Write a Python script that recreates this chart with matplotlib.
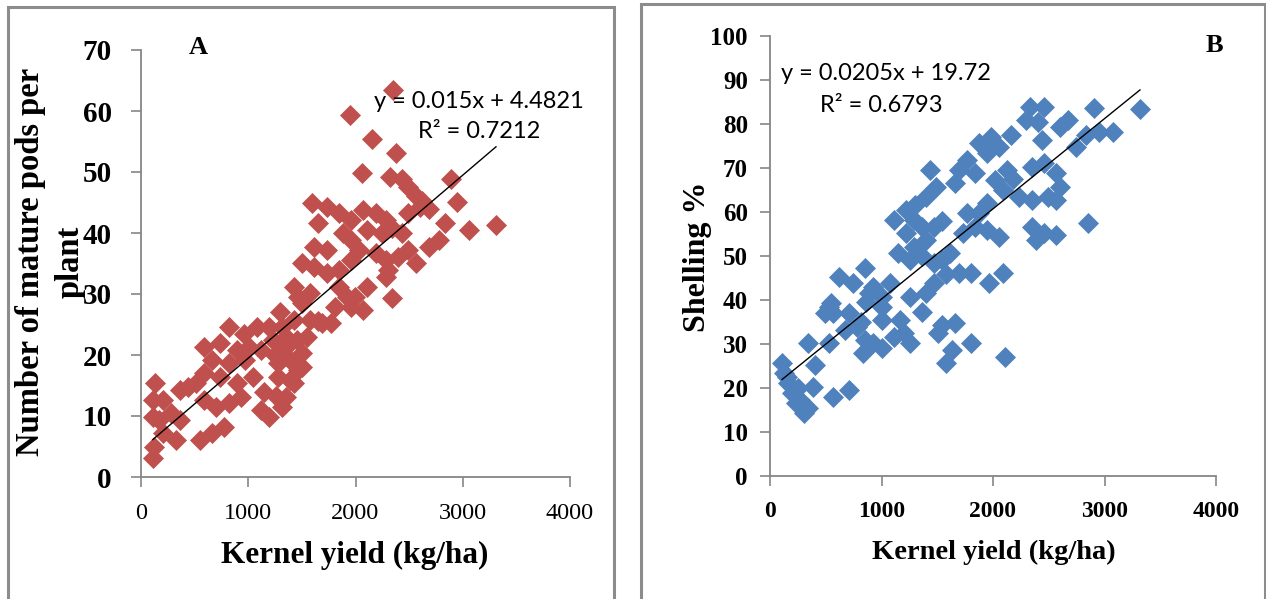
import numpy as np
import matplotlib.pyplot as plt
from matplotlib.patches import Rectangle

W, H = 1266, 599

# Panel A: kernel yield vs number of mature pods per plant
yield_a = [2350, 1949, 2154, 2378, 2061, 2321, 2434, 2890, 2946,
           2490, 2560, 2620, 2685,
           3058, 3310, 2834, 2778, 2685, 2564, 2340, 2070, 2107,
           1594, 1734, 1650, 1846, 1958, 2070, 2191, 2284, 2107, 2247, 2340, 2434, 2490, 2602,
           1613, 1734, 1883, 1958, 2033, 2191, 2284, 2396, 2490, 1958,
           1501, 1613, 1734, 1846, 1427, 1464, 1576, 1846, 1921, 1995, 2303, 2284,
           1501, 1809, 1958,
           1427, 1576, 1688, 1771, 820, 1082, 1193, 1315,
           960, 1230, 1300, 1350, 1450, 1550, 1250, 1650,
           587, 737, 895, 1007, 1119, 1352, 1501,
           662, 820, 970, 1277, 1389, 1501,
           587, 737, 895, 1044, 1277, 1389, 1460,
           438, 364, 512, 130,
           587, 699, 820, 932, 1119, 1193, 1315, 1352, 1427, 1150, 1260,
           110, 205, 280, 110, 168, 364, 205, 326, 550, 662, 774, 120, 112]
pods_a = [63.4, 59.3, 55.4, 53.1, 49.8, 49.2, 48.8, 48.8, 45.1,
          47.5, 46.0, 45.2, 44.0,
          40.5, 41.3, 41.6, 38.9, 37.7, 35.1, 29.3, 27.4, 31.2,
          44.9, 44.3, 41.6, 43.3, 42.1, 43.8, 43.3, 42.1, 40.5, 40.0, 40.8, 40.0, 43.3, 44.3,
          37.7, 37.2, 40.0, 38.9, 37.2, 36.7, 35.6, 36.1, 37.2, 35.6,
          35.1, 34.4, 33.4, 33.9, 31.2, 29.5, 30.2, 31.2, 29.5, 29.5, 33.9, 32.8,
          28.5, 27.9, 27.9,
          25.7, 25.7, 25.2, 25.2, 24.6, 24.6, 24.6, 24.6,
          23.5, 22.5, 27.0, 23.0, 22.5, 23.0, 20.0, 25.5,
          21.3, 22.0, 20.8, 21.3, 20.8, 21.3, 20.3,
          19.2, 18.7, 19.2, 18.7, 19.2, 18.0,
          17.0, 16.4, 15.4, 16.4, 16.4, 15.9, 17.5,
          14.8, 14.3, 15.4, 15.4,
          12.6, 11.5, 12.1, 13.1, 11.0, 9.8, 11.5, 13.1, 15.4, 14.0, 13.2,
          12.6, 12.6, 10.5, 9.8, 9.3, 9.3, 7.2, 6.1, 6.1, 7.2, 8.2, 4.9, 3.1]

# Panel B: kernel yield vs shelling percentage
yield_b = [3318, 2906, 3076, 2951, 2834, 2744, 2673, 2601, 2457, 2332, 2296, 2400, 2439, 2161,
           2054, 1982, 1874, 1946, 1767, 1695, 1838, 1435, 1659, 1489, 1399, 1300,
           2126, 2018, 2090, 2180, 2233, 2350, 2350, 2457, 2565, 2601, 2493, 2565, 2852, 2350,
           2386, 2457, 2565,
           1946, 1874, 1767, 1838, 1946, 2054, 1731, 1614, 1543, 1695, 1803, 1964, 2090,
           1220, 1112, 1292, 1220, 1363, 1471, 1540, 1400, 1292, 1148, 1256, 1363, 1471, 1580,
           852, 619, 744, 924, 1076, 1004, 1256, 1399, 1471, 888, 547, 493,
           529, 565, 708, 1004, 860, 1363, 1004, 1166, 1202, 1112, 1256, 1543, 1659, 1507,
           1803, 1632, 1579, 2108, 780, 820, 673, 924, 1004, 834, 850, 341, 529, 404, 386,
           565, 708, 108, 126, 161, 197, 233, 305, 269, 341, 150, 250]
shelling_b = [83.4, 83.6, 78.2, 78.2, 77.5, 74.8, 80.9, 79.3, 83.9, 83.9, 80.9, 80.5, 76.4, 77.5,
              74.8, 77.1, 75.7, 73.4, 71.8, 69.5, 68.9, 69.5, 66.6, 65.7, 63.4, 61.5,
              69.5, 67.3, 65.0, 67.5, 63.4, 62.7, 70.2, 71.1, 68.9, 65.7, 63.4, 62.7, 57.5, 56.6,
              53.6, 55.2, 54.8,
              62.0, 59.8, 59.8, 56.6, 55.9, 54.3, 55.2, 50.7, 49.1, 46.1, 46.1, 43.9, 46.1,
              60.5, 58.2, 58.2, 55.2, 56.6, 56.6, 58.0, 53.6, 52.0, 50.7, 49.1, 50.0, 48.4, 46.0,
              47.3, 45.2, 43.9, 43.0, 43.9, 40.7, 40.7, 41.6, 43.9, 41.6, 39.3, 37.0,
              38.4, 37.0, 37.0, 38.4, 39.5, 37.3, 35.5, 35.5, 32.5, 31.6, 30.2, 34.3, 34.8, 32.5,
              30.2, 28.6, 25.7, 27.0, 33.9, 35.0, 33.2, 30.2, 29.1, 27.9, 31.0, 30.2, 30.2, 25.2, 20.2,
              18.0, 19.5, 25.7, 23.4, 21.1, 18.9, 16.6, 14.3, 17.3, 15.5, 22.5, 20.0]

# fitted trendlines as printed on the chart
slope_a, icpt_a, r2_a = 0.015, 4.4821, 0.7212
slope_b, icpt_b, r2_b = 0.0205, 19.72, 0.6793

x_ticks = [0, 1000, 2000, 3000, 4000]
y_ticks_a = list(range(0, 71, 10))
y_ticks_b = list(range(0, 101, 10))

RED = '#C0504D'
BLUE = '#4F81BD'
AXIS = '#868686'
SERIF = 'Liberation Serif'
SANS = 'Lato'


def fx(px):
    return px / W


def fy(py):
    return 1 - py / H


fig = plt.figure(figsize=(W / 100, H / 100), dpi=100)

# panel borders (run past the bottom edge)
for x0, x1, top in [(8, 614, 7), (641, 1265, 4)]:
    fig.patches.append(Rectangle((fx(x0), -0.1), fx(x1) - fx(x0), fy(top) + 0.1,
                                 transform=fig.transFigure, fill=False,
                                 edgecolor='#8c8c8c', linewidth=2.2))

# figure caption, sitting just above the top edge (only descenders show)
fig.text(fx(0), fy(-3.5), "Figure 3. Regression of number of mature pods per plant on kernel yield (A) "
         "and of shelling percentage on kernel yield (B) among groundnut genotypes",
         fontsize=12, family=SERIF, va='baseline', ha='left')


def style_axes(ax, xpad, ypad):
    for side in ['top', 'right']:
        ax.spines[side].set_visible(False)
    for side in ['left', 'bottom']:
        ax.spines[side].set_color(AXIS)
        ax.spines[side].set_linewidth(1.3)
    ax.tick_params(direction='out', length=7, width=1.2, color=AXIS)
    ax.tick_params(axis='x', pad=xpad)
    ax.tick_params(axis='y', pad=ypad)
    ax.set_xlim(0, 4000)
    ax.set_xticks(x_ticks)


# ---- panel A ----
axA = fig.add_axes([fx(141), fy(477), fx(570) - fx(141), fy(50) - fy(477)])
axA.scatter(yield_a, pods_a, marker='D', s=115, color=RED, linewidths=0, zorder=2)
xs = np.array([min(yield_a), max(yield_a)])
axA.plot(xs, slope_a * xs + icpt_a, color='black', linewidth=1, zorder=3)
style_axes(axA, 12, 14)
axA.set_ylim(0, 70)
axA.set_yticks(y_ticks_a)
for lab in axA.get_xticklabels():
    lab.set_fontfamily(SERIF)
    lab.set_fontsize(17.5)
for lab in axA.get_yticklabels():
    lab.set_fontfamily(SERIF)
    lab.set_fontsize(21)
    lab.set_fontweight('bold')

fig.text(fx(355), fy(555), 'Kernel yield (kg/ha)', family=SERIF, fontsize=22.5,
         fontweight='bold', ha='center', va='center')
fig.text(fx(31), fy(262), 'Number of mature pods per', family=SERIF, fontsize=23.5,
         fontweight='bold', ha='center', va='center', rotation=90)
fig.text(fx(70), fy(262), 'plant', family=SERIF, fontsize=23.5,
         fontweight='bold', ha='center', va='center', rotation=90)
fig.text(fx(198), fy(47), 'A', family=SERIF, fontsize=19, fontweight='bold',
         ha='center', va='center')
fig.text(fx(374), fy(101), f'y = {slope_a}x + {icpt_a}', family=SANS, fontsize=17,
         ha='left', va='center')
fig.text(fx(418), fy(132), f'R² = {r2_a}', family=SANS, fontsize=17,
         ha='left', va='center')

# ---- panel B ----
axB = fig.add_axes([fx(770), fy(476), fx(1216) - fx(770), fy(36) - fy(476)])
axB.scatter(yield_b, shelling_b, marker='D', s=115, color=BLUE, linewidths=0, zorder=2)
xs = np.array([min(yield_b), max(yield_b)])
axB.plot(xs, slope_b * xs + icpt_b, color='black', linewidth=1, zorder=3)
style_axes(axB, 11, 9)
axB.set_ylim(0, 100)
axB.set_yticks(y_ticks_b)
for lab in axB.get_xticklabels():
    lab.set_fontfamily(SERIF)
    lab.set_fontsize(17)
    lab.set_fontweight('bold')
for lab in axB.get_yticklabels():
    lab.set_fontfamily(SERIF)
    lab.set_fontsize(18)
    lab.set_fontweight('bold')

fig.text(fx(994), fy(552), 'Kernel yield (kg/ha)', family=SERIF, fontsize=20.5,
         fontweight='bold', ha='center', va='center')
fig.text(fx(697), fy(257), 'Shelling %', family=SERIF, fontsize=23,
         fontweight='bold', ha='center', va='center', rotation=90)
fig.text(fx(1214), fy(46), 'B', family=SERIF, fontsize=19, fontweight='bold',
         ha='center', va='center')
fig.text(fx(781), fy(73), f'y = {slope_b}x + {icpt_b}', family=SANS, fontsize=17,
         ha='left', va='center')
fig.text(fx(820), fy(105), f'R² = {r2_b}', family=SANS, fontsize=17,
         ha='left', va='center')

fig.savefig('out.png', dpi=100)
